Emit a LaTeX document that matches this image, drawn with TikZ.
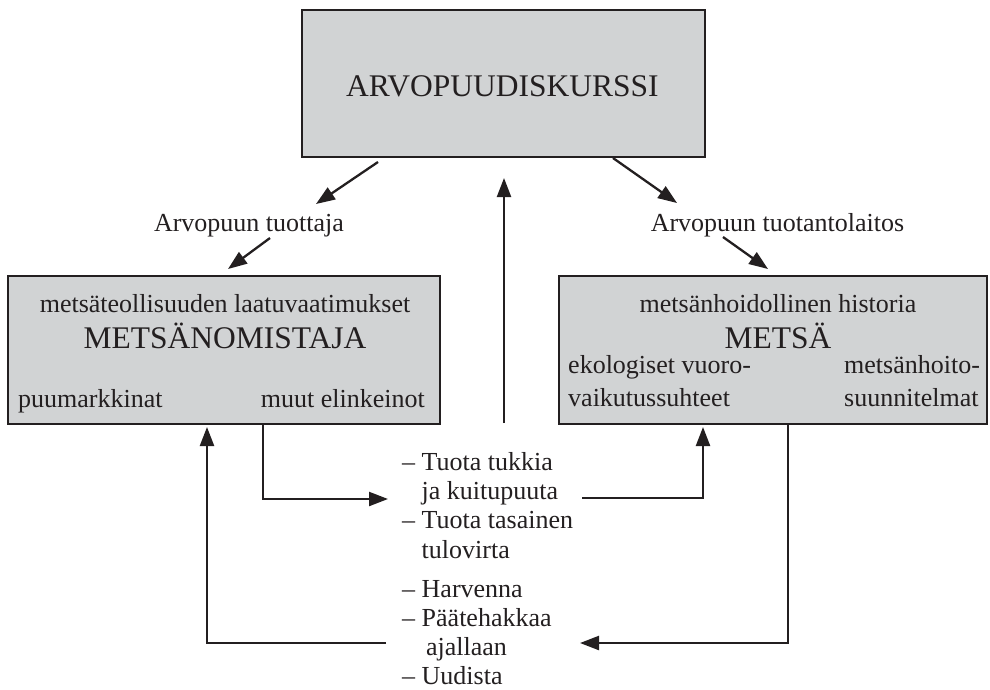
\documentclass[tikz,border=0pt]{standalone}
\usepackage{fontspec}
\setmainfont{Liberation Serif}
\usetikzlibrary{arrows.meta}
\definecolor{boxgray}{RGB}{209,211,212}
\definecolor{ink}{RGB}{35,31,32}
\newcommand{\smalltxt}{\fontsize{26}{29.4}\selectfont}
\newcommand{\listtxt}{\fontsize{26}{29}\selectfont}
\newcommand{\bigtxt}{\fontsize{31.5}{36}\selectfont}
\begin{document}
\begin{tikzpicture}[x=1pt,y=-1pt,
  box/.style={draw=ink, fill=boxgray, line width=2.6pt, rectangle, inner sep=0pt},
  arr/.style={draw=ink, line width=2.3pt, -{Triangle[length=19pt,width=14pt]}},
  sm/.style={font=\smalltxt, text=ink, inner sep=0pt},
  bg/.style={font=\bigtxt, text=ink, inner sep=0pt}]
\useasboundingbox (0,0) rectangle (990,689);
% boxes
\node[box, minimum width=403pt, minimum height=147pt] (T) at (503.5,83.5) {};
\node[box, minimum width=432pt, minimum height=148pt] (L) at (224,350) {};
\node[box, minimum width=428pt, minimum height=148pt] (R) at (773,350) {};
% box texts
\node[bg, anchor=base] (Tt) at (502.5,96) {ARVOPUUDISKURSSI};
\node[sm, anchor=base] (L1) at (225,312) {metsäteollisuuden laatuvaatimukset};
\node[bg, anchor=base] (L2) at (225,348) {METSÄNOMISTAJA};
\node[sm, anchor=base west] (L3) at (18,407) {puumarkkinat};
\node[sm, anchor=base east] (L4) at (425,407) {muut elinkeinot};
\node[sm, anchor=base] (R1) at (778,312) {metsänhoidollinen historia};
\node[bg, anchor=base] (R2) at (778,348) {METSÄ};
\node[sm, anchor=base west] (R3) at (568,373) {\fontsize{26}{33}\selectfont\begin{tabular}[t]{@{}l@{}}ekologiset vuoro-\\vaikutussuhteet\end{tabular}};
\node[sm, anchor=base west] (R4) at (844,373) {\fontsize{26}{33}\selectfont\begin{tabular}[t]{@{}l@{}}metsänhoito-\\suunnitelmat\end{tabular}};
% labels
\node[sm, anchor=base] (la) at (249,231) {Arvopuun tuottaja};
\node[sm, anchor=base] (lb) at (777.5,231) {Arvopuun tuotantolaitos};
% middle lists
\node[sm, anchor=base west] (G1) at (402,470) {\smalltxt\begin{tabular}[t]{@{}l@{}}– Tuota tukkia\\\hphantom{– }ja kuitupuuta\\– Tuota tasainen\\\hphantom{– }tulovirta\end{tabular}};
\node[sm, anchor=base west] (G2) at (402,597) {\listtxt\begin{tabular}[t]{@{}l@{}}– Harvenna\\– Päätehakkaa\\\hphantom{– }\,ajallaan\\– Uudista\end{tabular}};
% connector end points
\coordinate (a1s) at (378,162); \coordinate (a1e) at (316,204);
\coordinate (a2s) at (270,238); \coordinate (a2e) at (228,269);
\coordinate (b1s) at (613,158); \coordinate (b1e) at (677,203);
\coordinate (b2s) at (723,237); \coordinate (b2e) at (768,269);
\coordinate (cs) at (504,423); \coordinate (ce) at (504,178);
\coordinate (Lout) at (263,425); \coordinate (G1in) at (388,499);
\coordinate (G1out) at (582,498); \coordinate (Rin) at (703,427);
\coordinate (Rout) at (788,425); \coordinate (G2in) at (580,643);
\coordinate (G2out) at (386,643); \coordinate (Lin) at (207,427);
% connectors
\draw[arr] (a1s) -- (a1e);
\draw[arr] (a2s) -- (a2e);
\draw[arr] (b1s) -- (b1e);
\draw[arr] (b2s) -- (b2e);
\draw[arr] (cs) -- (ce);
\draw[arr] (Lout) |- (G1in);
\draw[arr] (G1out) -| (Rin);
\draw[arr] (Rout) |- (G2in);
\draw[arr] (G2out) -| (Lin);
\end{tikzpicture}
\end{document}
